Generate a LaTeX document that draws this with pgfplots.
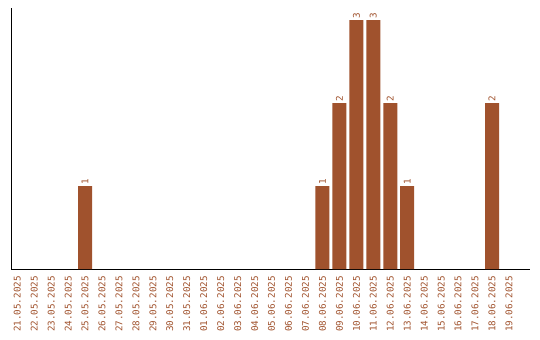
\documentclass[border=0pt]{standalone}
\usepackage{pgfplots}
\pgfplotsset{compat=1.18}
\usepackage{fontspec}
\setmainfont{DejaVu Sans}
\newfontfamily\monof{DejaVu Sans Mono}
\definecolor{sienna}{HTML}{A0522D}
\begin{document}
\begin{tikzpicture}
\path[use as bounding box] (-11bp,-71bp) rectangle (529bp,269bp);
\begin{axis}[
  at={(0,0)}, anchor=south west,
  scale only axis,
  width=519bp, height=261bp,
  xmin=-0.37, xmax=30.24,
  ymin=0, ymax=3.145,
  axis x line*=bottom, axis y line*=left,
  axis line style={black, line width=1bp},
  ytick=\empty,
  xtick={0,...,29},
  xticklabels={21.05.2025,22.05.2025,23.05.2025,24.05.2025,25.05.2025,26.05.2025,27.05.2025,28.05.2025,29.05.2025,30.05.2025,31.05.2025,01.06.2025,02.06.2025,03.06.2025,04.06.2025,05.06.2025,06.06.2025,07.06.2025,08.06.2025,09.06.2025,10.06.2025,11.06.2025,12.06.2025,13.06.2025,14.06.2025,15.06.2025,16.06.2025,17.06.2025,18.06.2025,19.06.2025},
  major tick length=0pt,
  xticklabel style={rotate=90, anchor=east, font=\monof\fontsize{9.3}{10}\selectfont, text=sienna, inner sep=0pt, xshift=-7bp},
  ybar, bar width=14bp,
  nodes near coords,
  nodes near coords style={rotate=90, anchor=west, font=\monof\fontsize{9.3}{10}\selectfont, text=sienna, inner sep=0pt, xshift=1bp, /pgf/number format/assume math mode=true},
  point meta=y,
  clip=false,
]
\addplot[fill=sienna, draw=none] coordinates {
(4,1) (18,1) (19,2) (20,3) (21,3) (22,2) (23,1) (28,2)
};
\end{axis}
\end{tikzpicture}
\end{document}
